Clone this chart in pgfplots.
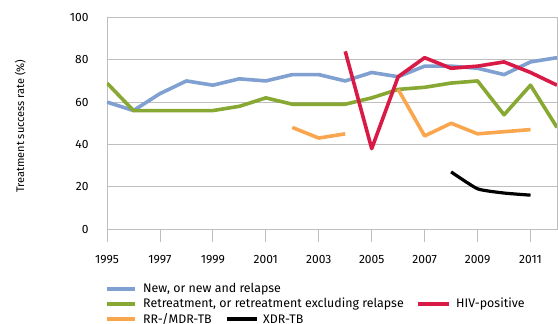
\documentclass[border=0pt]{standalone}
\usepackage{pgfplots}
\pgfplotsset{compat=1.18}
\usepackage{fontspec}
\setmainfont{Fira Sans}
\definecolor{cblue}{RGB}{127,160,208}
\definecolor{cgreen}{RGB}{136,168,52}
\definecolor{cred}{RGB}{218,26,70}
\definecolor{corange}{RGB}{250,166,78}
\definecolor{cgrid}{RGB}{190,190,190}
\begin{document}
\begin{tikzpicture}[x=1pt,y=1pt]
\path[use as bounding box] (-107,-95) rectangle (451,229);
\begin{axis}[at={(0,0)}, anchor=south west, scale only axis,
  width=450pt, height=211.5pt,
  xmin=1995, xmax=2012, ymin=0, ymax=100,
  xtick={1995,1997,...,2011}, ytick={0,20,...,100},
  /pgf/number format/assume math mode=true,
  x tick label style={/pgf/number format/1000 sep={}, yshift=-10pt},
  y tick label style={xshift=-2pt},
  tick label style={font=\fontsize{12}{14}\selectfont, black},
  axis line style={draw=cgrid, line width=0.8pt},
  ymajorgrids, grid style={cgrid, line width=0.8pt},
  xtick pos=bottom, ytick pos=left, tick align=outside,
  major tick length=13pt,
  xtick style={draw=cgrid, line width=0.8pt},
  ytick style={draw=none},
  ylabel={Treatment success rate (\%)},
  y label style={at={(axis description cs:-0.193,0.486)}, anchor=center, font=\fontsize{11}{13}\selectfont},
  unbounded coords=jump,
  every axis plot/.append style={line width=3.6pt, line join=round},
]
\addplot[cblue] coordinates {(1995,60)(1996,56)(1997,64)(1998,70)(1999,68)(2000,71)(2001,70)(2002,73)(2003,73)(2004,70)(2005,74)(2006,72)(2007,77)(2008,77)(2009,76)(2010,73)(2011,79)(2012,81)};
\addplot[cgreen] coordinates {(1995,69)(1996,56)(1997,56)(1998,56)(1999,56)(2000,58)(2001,62)(2002,59)(2003,59)(2004,59)(2005,62)(2006,66)(2007,67)(2008,69)(2009,70)(2010,54)(2011,68)(2012,48)};
\addplot[corange] coordinates {(2002,48)(2003,43)(2004,45)(2005,nan)(2006,66)(2007,44)(2008,50)(2009,45)(2010,46)(2011,47)};
\addplot[black, line width=3.2pt, smooth, tension=0.3] coordinates {(2008,27)(2009,19)(2010,17)(2011,16)};
\addplot[cred] coordinates {(2004,84)(2005,38)(2006,72)(2007,81)(2008,76)(2009,77)(2010,79)(2011,74)(2012,68)};
\end{axis}
\begin{scope}[every node/.style={anchor=west, font=\fontsize{12.4}{14}\selectfont, inner sep=0pt}]
\draw[cblue, line width=3.6pt] (0,-60) -- (28,-60);
\node at (36,-60) {New, or new and relapse};
\draw[cgreen, line width=3.6pt] (0,-75) -- (28,-75);
\node at (36,-75) {Retreatment, or retreatment excluding relapse};
\draw[cred, line width=3.6pt] (311,-75) -- (342,-75);
\node at (349,-75) {HIV-positive};
\draw[corange, line width=3.6pt] (0,-90) -- (28,-90);
\node at (36,-90) {RR-/MDR-TB};
\draw[black, line width=3.6pt] (120,-90) -- (150,-90);
\node at (156,-90) {XDR-TB};
\end{scope}
\end{tikzpicture}
\end{document}
